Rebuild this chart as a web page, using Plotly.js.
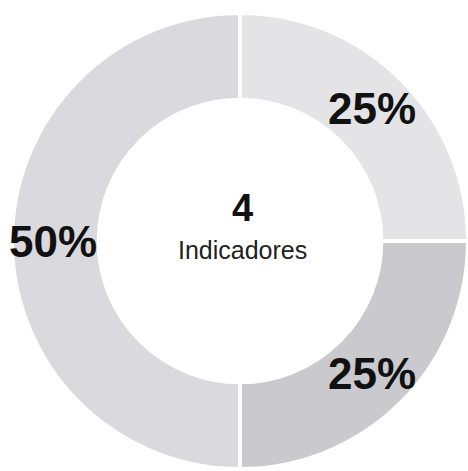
<!DOCTYPE html>
<html>
<head>
<meta charset="utf-8">
<script src="https://cdn.plot.ly/plotly-3.0.1.min.js"></script>
<style>html,body{margin:0;padding:0;background:#fff;}#chart{width:468px;height:471px;}</style>
</head>
<body>
<div id="chart"></div>
<script>
// Data
const categories = ["Grupo A", "Grupo B", "Grupo C"];
const values = [1, 1, 2];
const sliceColors = ["#e4e4e7", "#cacace", "#dadade"];
const centerLabel = "Indicadores";

const W = 468, H = 471;
const total = values.reduce((a, b) => a + b, 0);
const holeFrac = 0.62;
// pie geometry (pixels)
const cx = 240, cy = 241, R = 228;
const domX = [(cx - R) / W, Math.min(1, (cx + R) / W)];
const domY = [(H - cy - R) / H, (H - cy + R) / H];

const font = "Liberation Sans, Arial, sans-serif";

const trace = {
  type: "pie",
  labels: categories,
  values: values,
  sort: false,
  direction: "clockwise",
  rotation: 0,
  hole: holeFrac,
  marker: {colors: sliceColors, line: {color: "#ffffff", width: 4}},
  textinfo: "none",
  hoverinfo: "label+percent",
  showlegend: false,
  domain: {x: domX, y: domY}
};

// percent labels placed at each slice's mid-angle, mid-ring (derived from values)
const annotations = [];
let cum = 0;
const rText = R * (1 + holeFrac) / 2 + 2;
values.forEach((v) => {
  const theta = (cum + v / 2) / total * 2 * Math.PI;
  cum += v;
  const px = cx + rText * Math.sin(theta);
  const py = cy - rText * Math.cos(theta);
  annotations.push({
    text: "<b>" + Math.round(v / total * 100) + "%</b>",
    x: px / W, y: 1 - py / H, xref: "paper", yref: "paper",
    xanchor: "center", yanchor: "middle",
    showarrow: false, font: {family: font, size: 44, color: "#111111"}
  });
});
annotations.push(
  {text: "<b>" + total + "</b>", x: 242 / W, y: 1 - 208 / H, xref: "paper", yref: "paper",
   xanchor: "center", yanchor: "middle",
   showarrow: false, font: {family: font, size: 38, color: "#111111"}},
  {text: centerLabel, x: 242 / W, y: 1 - 250 / H, xref: "paper", yref: "paper",
   xanchor: "center", yanchor: "middle",
   showarrow: false, font: {family: font, size: 25, color: "#222222"}}
);

const layout = {
  width: W,
  height: H,
  margin: {l: 0, r: 0, t: 0, b: 0},
  paper_bgcolor: "#ffffff",
  showlegend: false,
  annotations: annotations
};

Plotly.newPlot("chart", [trace], layout, {displayModeBar: false, staticPlot: true});
</script>
</body>
</html>
